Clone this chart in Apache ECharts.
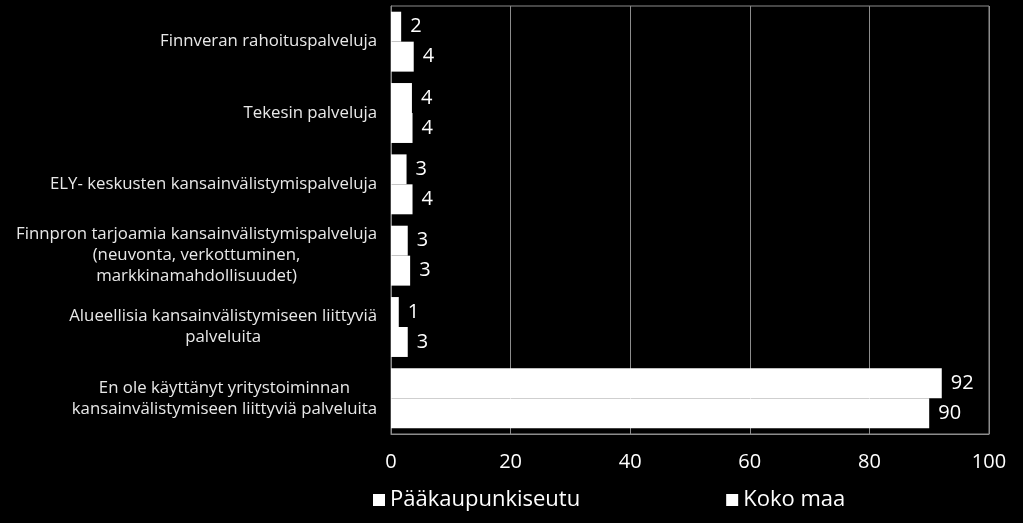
<!DOCTYPE html>
<html>
<head>
<meta charset="utf-8">
<script src="https://cdn.jsdelivr.net/npm/echarts@6/dist/echarts.min.js"></script>
<style>
  html, body { margin: 0; padding: 0; background: #000; }
  #chart { width: 1023px; height: 523px; }
</style>
</head>
<body>
<div id="chart"></div>
<script>
var categories = [
    'Finnveran rahoituspalveluja',
    'Tekesin palveluja',
    'ELY- keskusten kansainvälistymispalveluja',
    'Finnpron tarjoamia kansainvälistymispalveluja\n(neuvonta, verkottuminen,\nmarkkinamahdollisuudet)',
    'Alueellisia kansainvälistymiseen liittyviä\npalveluita',
    'En ole käyttänyt yritystoiminnan\nkansainvälistymiseen liittyviä palveluita'
];
var seriesNames = ['Pääkaupunkiseutu', 'Koko maa'];
var paakaupunkiseutu = [1.7, 3.5, 2.6, 2.8, 1.3, 92.1];
var kokoMaa = [3.8, 3.6, 3.6, 3.2, 2.8, 90.0];
var xTicks = [0, 20, 40, 60, 80, 100];

var chart = echarts.init(document.getElementById('chart'));

function barSeries(name, data) {
    return {
        name: name,
        type: 'bar',
        data: data,
        barGap: '0%',
        barCategoryGap: '16%',
        itemStyle: {color: '#ffffff'},
        label: {
            show: true,
            position: 'right',
            distance: 9,
            color: '#ffffff',
            fontFamily: 'Open Sans',
            fontSize: 20,
            formatter: function (p) {
                return Math.round(p.value);
            }
        }
    };
}

var option = {
    backgroundColor: '#000000',
    animation: false,
    grid: {
        left: 391,
        right: 34,
        top: 6,
        height: 428,
        show: true,
        borderColor: '#8c8c8c',
        borderWidth: 1
    },
    legend: {
        left: 368,
        top: 484,
        itemGap: 146,
        itemWidth: 12,
        itemHeight: 12,
        icon: 'rect',
        textStyle: {
            color: '#ffffff',
            fontFamily: 'Open Sans',
            fontSize: 22
        },
        data: seriesNames
    },
    xAxis: {
        type: 'value',
        min: xTicks[0],
        max: xTicks[xTicks.length - 1],
        interval: 20,
        axisLine: {show: true, lineStyle: {color: '#8c8c8c'}},
        axisTick: {show: false},
        splitLine: {show: true, lineStyle: {color: '#8c8c8c', width: 1}},
        axisLabel: {
            color: '#ffffff',
            fontFamily: 'Open Sans',
            fontSize: 20,
            margin: 18
        }
    },
    yAxis: {
        type: 'category',
        inverse: true,
        data: categories,
        axisLine: {show: true, lineStyle: {color: '#8c8c8c'}},
        axisTick: {show: false},
        axisLabel: {
            color: '#e8e8e8',
            fontFamily: 'Open Sans',
            fontSize: 16.8,
            lineHeight: 21,
            margin: 14,
            formatter: function (value) {
                return value.split('\n').map(function (l) {
                    return '{c|' + l + '}';
                }).join('\n');
            },
            rich: {
                c: {
                    align: 'center',
                    color: '#e8e8e8',
                    fontFamily: 'Open Sans',
                    fontSize: 16.8,
                    lineHeight: 21
                }
            }
        }
    },
    series: [
        barSeries(seriesNames[0], paakaupunkiseutu),
        barSeries(seriesNames[1], kokoMaa)
    ]
};

chart.setOption(option);
</script>
</body>
</html>
